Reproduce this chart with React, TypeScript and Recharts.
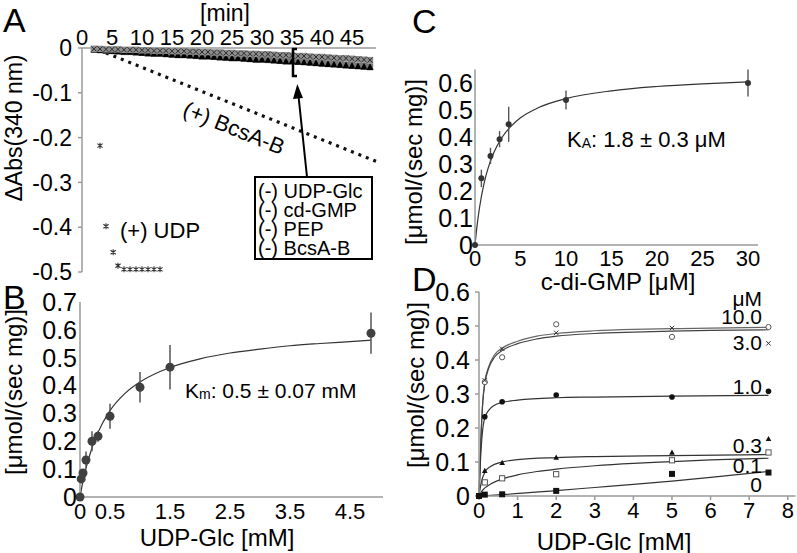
import React from 'react'
import { ComposedChart, Line, Scatter, XAxis, YAxis, ErrorBar } from 'recharts'

const FONT = '"Liberation Sans", Arial, Helvetica, sans-serif'
const AXIS = '#9a9a9a'

// ---- panel A: time course ----
const bandTimes = [2, 3, 4, 5, 6, 7, 8, 9, 10, 11, 12, 13, 14, 15, 16, 17, 18, 19, 20, 21, 22, 23, 24, 25, 26, 27, 28, 29, 30, 31, 32, 33, 34, 35, 36, 37, 38, 39, 40, 41, 42, 43, 44, 45, 46, 47, 48]
const bandCross = [-0.002, -0.002, -0.003, -0.003, -0.003, -0.004, -0.004, -0.004, -0.005, -0.005, -0.006, -0.006, -0.006, -0.007, -0.007, -0.007, -0.008, -0.008, -0.009, -0.009, -0.01, -0.01, -0.011, -0.011, -0.012, -0.012, -0.013, -0.013, -0.014, -0.014, -0.015, -0.016, -0.016, -0.017, -0.018, -0.018, -0.019, -0.02, -0.02, -0.021, -0.022, -0.023, -0.023, -0.024, -0.025, -0.026, -0.027]
const bandTri = [-0.003, -0.004, -0.005, -0.006, -0.007, -0.008, -0.008, -0.009, -0.01, -0.011, -0.012, -0.012, -0.013, -0.014, -0.015, -0.015, -0.016, -0.017, -0.018, -0.018, -0.019, -0.02, -0.021, -0.022, -0.022, -0.023, -0.024, -0.025, -0.025, -0.026, -0.027, -0.028, -0.029, -0.029, -0.03, -0.031, -0.032, -0.033, -0.034, -0.035, -0.036, -0.037, -0.038, -0.039, -0.04, -0.041, -0.042]
const bcsTimes = [4, 49]
const bcsValues = [-0.011, -0.253]
const udpTimes = [3, 4, 5.2, 6, 7, 8, 9, 10, 11, 12, 13]
const udpValues = [-0.218, -0.398, -0.456, -0.486, -0.494, -0.494, -0.494, -0.494, -0.494, -0.494, -0.494]
const aTimeTicks = [0, 5, 10, 15, 20, 25, 30, 35, 40, 45]
const aAbsTicks = [0, -0.1, -0.2, -0.3, -0.4, -0.5]

// ---- panel B: UDP-Glc ----
const bConc = [0, 0.02, 0.05, 0.1, 0.2, 0.3, 0.5, 1.0, 1.5, 4.85]
const bRate = [0, 0.065, 0.086, 0.133, 0.2, 0.218, 0.29, 0.394, 0.466, 0.588]
const bErr = [0, 0, 0, 0.03, 0.036, 0.02, 0.045, 0.055, 0.08, 0.074]
const bFitX = [0, 0.05, 0.1, 0.2, 0.3, 0.5, 0.75, 1, 1.5, 2, 2.5, 3, 3.5, 4, 4.5, 4.85]
const bFitY = [0, 0.057, 0.103, 0.177, 0.232, 0.31, 0.372, 0.413, 0.465, 0.496, 0.517, 0.531, 0.543, 0.551, 0.558, 0.563]
const bXTicks = [0, 0.5, 1.5, 2.5, 3.5, 4.5]
const bYTicks = [0, 0.1, 0.2, 0.3, 0.4, 0.5, 0.6, 0.7]

// ---- panel C: c-di-GMP ----
const cConc = [0, 0.7, 1.7, 2.7, 3.7, 10, 30]
const cRate = [0, 0.247, 0.33, 0.392, 0.447, 0.537, 0.6]
const cErr = [0, 0.032, 0.03, 0.03, 0.065, 0.035, 0.05]
const cFitX = [0, 0.25, 0.5, 1, 1.5, 2, 3, 4, 5, 7, 10, 15, 20, 25, 30]
const cFitY = [0, 0.078, 0.139, 0.229, 0.291, 0.337, 0.4, 0.441, 0.471, 0.509, 0.542, 0.571, 0.587, 0.597, 0.604]
const cXTicks = [0, 5, 10, 15, 20, 25, 30]
const cYTicks = [0, 0.1, 0.2, 0.3, 0.4, 0.5, 0.6]

// ---- panel D: UDP-Glc at several c-di-GMP ----
const dConc = [0.15, 0.6, 2, 5, 7.5]
const d10 = [0.335, 0.408, 0.505, 0.468, 0.497]
const d3 = [0.34, 0.433, 0.48, 0.494, 0.449]
const d1 = [0.233, 0.277, 0.297, 0.291, 0.308]
const d03 = [0.074, 0.098, 0.113, 0.128, 0.168]
const d01 = [0.04, 0.052, 0.064, 0.105, 0.128]
const d0Conc = [0, 0.15, 0.6, 2, 5, 7.5]
const d0 = [0, 0.004, 0.005, 0.015, 0.065, 0.069]
const fit10X = [0, 0.05, 0.1, 0.15, 0.25, 0.4, 0.6, 1, 1.5, 2, 3, 4, 5, 6, 7.5]
const fit10Y = [0, 0.17, 0.28, 0.335, 0.38, 0.415, 0.435, 0.455, 0.47, 0.478, 0.486, 0.49, 0.492, 0.494, 0.496]
const fit3Y = [0, 0.17, 0.28, 0.33, 0.375, 0.408, 0.428, 0.448, 0.462, 0.47, 0.478, 0.482, 0.485, 0.487, 0.489]
const fit1X = [0, 0.05, 0.1, 0.15, 0.25, 0.4, 0.6, 1, 2, 3, 5, 7.5]
const fit1Y = [0, 0.13, 0.2, 0.23, 0.252, 0.267, 0.275, 0.282, 0.289, 0.291, 0.294, 0.296]
const fit03X = [0, 0.05, 0.15, 0.3, 0.6, 1, 2, 3, 5, 7.5]
const fit03Y = [0, 0.035, 0.07, 0.087, 0.1, 0.107, 0.113, 0.116, 0.119, 0.122]
const fit01X = [0, 0.1, 0.3, 0.6, 1, 1.5, 2, 3, 4, 5, 6, 7.5]
const fit01Y = [0, 0.018, 0.035, 0.05, 0.062, 0.072, 0.079, 0.089, 0.096, 0.101, 0.106, 0.111]
const fit0X = [0, 0.6, 2, 3, 4, 5, 6, 7.5]
const fit0Y = [0, 0.004, 0.016, 0.025, 0.034, 0.044, 0.055, 0.072]
const dXTicks = [0, 1, 2, 3, 4, 5, 6, 7, 8]
const dYTicks = [0, 0.1, 0.2, 0.3, 0.4, 0.5, 0.6]

const pts = (xs: number[], ys: number[], es?: number[]) =>
  xs.map((x, i) => ({ x, y: ys[i], e: es ? es[i] : 0 }))

const tickStyle = (size: number) => ({ fontSize: size, fill: '#000', fontFamily: FONT })

// marker shapes
const crossBox = (p: any) => (
  <g>
    <rect x={p.cx - 3.2} y={p.cy - 3.2} width={6.4} height={6.4} fill="#8e8e8e" />
    <path d={`M${p.cx - 2.6},${p.cy - 2.6}L${p.cx + 2.6},${p.cy + 2.6}M${p.cx + 2.6},${p.cy - 2.6}L${p.cx - 2.6},${p.cy + 2.6}`} stroke="#2a2a2a" strokeWidth={1} />
  </g>
)
const triangle = (p: any) => (
  <g>
    <rect x={p.cx - 3.2} y={p.cy - 3.5} width={6.4} height={7} fill="#777" />
    <path d={`M${p.cx},${p.cy - 3.5}L${p.cx + 3.5},${p.cy + 3.2}L${p.cx - 3.5},${p.cy + 3.2}Z`} fill="#000" />
  </g>
)
const asterisk = (p: any) => (
  <path d={`M${p.cx},${p.cy - 3}L${p.cx},${p.cy + 3}M${p.cx - 2.6},${p.cy - 2}L${p.cx + 2.6},${p.cy + 2}M${p.cx + 2.6},${p.cy - 2}L${p.cx - 2.6},${p.cy + 2}`} stroke="#333" strokeWidth={1.1} />
)
const bigDot = (p: any) => <circle cx={p.cx} cy={p.cy} r={4.5} fill="#404040" />
const smallDot = (p: any) => <circle cx={p.cx} cy={p.cy} r={3} fill="#333" />
const openCircle = (p: any) => <circle cx={p.cx} cy={p.cy} r={2.6} fill="#fff" stroke="#444" strokeWidth={0.9} />
const smallX = (p: any) => (
  <path d={`M${p.cx - 2.2},${p.cy - 2.2}L${p.cx + 2.2},${p.cy + 2.2}M${p.cx + 2.2},${p.cy - 2.2}L${p.cx - 2.2},${p.cy + 2.2}`} stroke="#333" strokeWidth={1} />
)
const filledDot = (p: any) => <circle cx={p.cx} cy={p.cy} r={2.8} fill="#111" />
const smallTri = (p: any) => (
  <path d={`M${p.cx},${p.cy - 3}L${p.cx + 2.8},${p.cy + 2.2}L${p.cx - 2.8},${p.cy + 2.2}Z`} fill="#111" />
)
const openSquare = (p: any) => (
  <rect x={p.cx - 2.6} y={p.cy - 2.6} width={5.2} height={5.2} fill="#fff" stroke="#444" strokeWidth={0.9} />
)
const filledSquare = (p: any) => <rect x={p.cx - 3} y={p.cy - 3} width={6} height={6} fill="#111" />

function PanelA() {
  return (
    <ComposedChart width={380} height={300} margin={{ top: 0, right: 4, bottom: 28, left: 0 }}>
      <XAxis
        type="number"
        dataKey="x"
        orientation="top"
        height={48}
        domain={[0, 49]}
        ticks={aTimeTicks}
        interval={0}
        stroke={AXIS}
        strokeWidth={1.5}
        tickLine={false}
        tickSize={0}
        tickMargin={3}
        tick={tickStyle(22)}
      />
      <YAxis
        type="number"
        dataKey="y"
        width={82}
        domain={[-0.5, 0]}
        ticks={aAbsTicks}
        interval={0}
        stroke={AXIS}
        strokeWidth={1.5}
        tickSize={4}
        tickMargin={6}
        tick={tickStyle(23)}
      />
      <Line
        data={pts(bcsTimes, bcsValues)}
        dataKey="y"
        type="linear"
        stroke="#111"
        strokeWidth={3.2}
        strokeDasharray="3 5"
        dot={false}
        isAnimationActive={false}
      />
      <Scatter data={pts(bandTimes, bandTri)} dataKey="y" shape={triangle} isAnimationActive={false} />
      <Scatter data={pts(bandTimes, bandCross)} dataKey="y" shape={crossBox} isAnimationActive={false} />
      <Scatter data={pts(udpTimes, udpValues)} dataKey="y" shape={asterisk} isAnimationActive={false} />
    </ComposedChart>
  )
}

function PanelB() {
  return (
    <ComposedChart width={390} height={283} margin={{ top: 32, right: 7, bottom: 0, left: 0 }}>
      <XAxis
        type="number"
        dataKey="x"
        height={56}
        domain={[0, 5.05]}
        ticks={bXTicks}
        interval={0}
        stroke={AXIS}
        strokeWidth={1.5}
        tickLine={false}
        tickSize={3}
        tickMargin={3}
        tick={tickStyle(22)}
      />
      <YAxis
        type="number"
        dataKey="y"
        width={80}
        domain={[0, 0.7]}
        ticks={bYTicks}
        interval={0}
        stroke={AXIS}
        strokeWidth={1.5}
        tickLine={false}
        tickSize={0}
        tickMargin={3}
        tick={tickStyle(25)}
      />
      <Line
        data={pts(bFitX, bFitY)}
        dataKey="y"
        type="monotone"
        stroke="#333"
        strokeWidth={1.2}
        dot={false}
        isAnimationActive={false}
      />
      <Scatter data={pts(bConc, bRate, bErr)} dataKey="y" shape={bigDot} isAnimationActive={false}>
        <ErrorBar dataKey="e" direction="y" width={0} stroke="#555" strokeWidth={1.5} isAnimationActive={false} />
      </Scatter>
    </ComposedChart>
  )
}

function PanelC() {
  return (
    <ComposedChart width={397} height={235} margin={{ top: 29.5, right: 39, bottom: 0, left: 0 }}>
      <XAxis
        type="number"
        dataKey="x"
        height={30}
        domain={[0, 31.1]}
        ticks={cXTicks}
        interval={0}
        stroke={AXIS}
        strokeWidth={1.5}
        tickLine={false}
        tickSize={3}
        tickMargin={2}
        tick={tickStyle(22)}
      />
      <YAxis
        type="number"
        dataKey="y"
        width={75}
        domain={[0, 0.65]}
        ticks={cYTicks}
        interval={0}
        stroke={AXIS}
        strokeWidth={1.5}
        tickLine={false}
        tickSize={0}
        tickMargin={2}
        tick={tickStyle(25)}
      />
      <Line
        data={pts(cFitX, cFitY)}
        dataKey="y"
        type="monotone"
        stroke="#333"
        strokeWidth={1.2}
        dot={false}
        isAnimationActive={false}
      />
      <Scatter data={pts(cConc, cRate, cErr)} dataKey="y" shape={smallDot} isAnimationActive={false}>
        <ErrorBar dataKey="e" direction="y" width={0} stroke="#555" strokeWidth={1.4} isAnimationActive={false} />
      </Scatter>
    </ComposedChart>
  )
}

const fitLine = (data: any[], key: string, color: string) => (
  <Line
    key={key}
    data={data}
    dataKey="y"
    type="monotone"
    stroke={color}
    strokeWidth={1.2}
    dot={false}
    isAnimationActive={false}
  />
)

function PanelD() {
  return (
    <ComposedChart width={397} height={291} margin={{ top: 30, right: 1.5, bottom: 0, left: 0 }}>
      <XAxis
        type="number"
        dataKey="x"
        height={57}
        domain={[0, 8.2]}
        ticks={dXTicks}
        interval={0}
        stroke={AXIS}
        strokeWidth={1.5}
        tickSize={4}
        tickMargin={2}
        tick={tickStyle(22)}
      />
      <YAxis
        type="number"
        dataKey="y"
        width={79}
        domain={[0, 0.6]}
        ticks={dYTicks}
        interval={0}
        stroke={AXIS}
        strokeWidth={1.5}
        tickSize={4}
        tickMargin={5}
        tick={tickStyle(25)}
      />
      {fitLine(pts(fit10X, fit10Y), 'f10', '#666')}
      {fitLine(pts(fit10X, fit3Y), 'f3', '#444')}
      {fitLine(pts(fit1X, fit1Y), 'f1', '#333')}
      {fitLine(pts(fit03X, fit03Y), 'f03', '#333')}
      {fitLine(pts(fit01X, fit01Y), 'f01', '#333')}
      {fitLine(pts(fit0X, fit0Y), 'f0', '#333')}
      <Scatter data={pts(dConc, d10)} dataKey="y" shape={openCircle} isAnimationActive={false} />
      <Scatter data={pts(dConc, d3)} dataKey="y" shape={smallX} isAnimationActive={false} />
      <Scatter data={pts(dConc, d1)} dataKey="y" shape={filledDot} isAnimationActive={false} />
      <Scatter data={pts(dConc, d03)} dataKey="y" shape={smallTri} isAnimationActive={false} />
      <Scatter data={pts(dConc, d01)} dataKey="y" shape={openSquare} isAnimationActive={false} />
      <Scatter data={pts(d0Conc, d0)} dataKey="y" shape={filledSquare} isAnimationActive={false} />
    </ComposedChart>
  )
}

const boxLines = ['(-) UDP-Glc', '(-) cd-GMP', '(-) PEP', '(-) BcsA-B']
const dLabels = [
  { t: 'μM', y: 298 },
  { t: '10.0', y: 316 },
  { t: '3.0', y: 342 },
  { t: '1.0', y: 386 },
  { t: '0.3', y: 445 },
  { t: '0.1', y: 465 },
  { t: '0', y: 484 },
]

function Annotations() {
  const t = { fontFamily: FONT, fill: '#000' }
  return (
    <svg width={797} height={553} style={{ position: 'absolute', left: 0, top: 0, pointerEvents: 'none' }}>
      {/* panel letters */}
      <text x={3} y={32} fontSize={34} {...t}>A</text>
      <text x={3} y={309} fontSize={34} {...t}>B</text>
      <text x={412} y={33} fontSize={34} {...t}>C</text>
      <text x={412} y={291} fontSize={34} {...t}>D</text>

      {/* panel A */}
      <text x={225} y={13} fontSize={23} textAnchor="middle" dominantBaseline="central" {...t}>[min]</text>
      <text x={14} y={128} fontSize={23} textAnchor="middle" dominantBaseline="central" transform="rotate(-90 14 128)" {...t}>ΔAbs(340 nm)</text>
      <text x={120} y={230} fontSize={22} dominantBaseline="central" {...t}>(+) UDP</text>
      <text x={234} y={128} fontSize={22} textAnchor="middle" dominantBaseline="central" transform="rotate(22 234 128)" {...t}>(+) BcsA-B</text>
      <path d="M297,49L293,49L293,76L297,76" fill="none" stroke="#000" strokeWidth={2.5} />
      <line x1={307} y1={177} x2={298.5} y2={96} stroke="#000" strokeWidth={2} />
      <path d="M297.3,84L303,98L293,99Z" fill="#000" />
      <rect x={255} y={177} width={117} height={82} fill="#fff" stroke="#000" strokeWidth={2} />
      {boxLines.map((s, i) => (
        <text key={s} x={258} y={191 + i * 19} fontSize={20} dominantBaseline="central" {...t}>{s}</text>
      ))}

      {/* panel B */}
      <text x={13} y={392} fontSize={24} textAnchor="middle" dominantBaseline="central" transform="rotate(-90 13 392)" {...t}>[μmol/(sec mg)]</text>
      <text x={217} y={537} fontSize={24} textAnchor="middle" dominantBaseline="central" {...t}>UDP-Glc [mM]</text>
      <text x={185} y={390} fontSize={21} dominantBaseline="central" {...t}>
        K<tspan fontSize={14} dy={4}>m</tspan><tspan dy={-4}>: 0.5 ± 0.07 mM</tspan>
      </text>

      {/* panel C */}
      <text x={413} y={162} fontSize={24} textAnchor="middle" dominantBaseline="central" transform="rotate(-90 413 162)" {...t}>[μmol/(sec mg)]</text>
      <text x={618} y={281} fontSize={24} textAnchor="middle" dominantBaseline="central" {...t}>c-di-GMP [μM]</text>
      <text x={567} y={139} fontSize={22} dominantBaseline="central" {...t}>
        K<tspan fontSize={14} dy={4}>A</tspan><tspan dy={-4}>: 1.8 ± 0.3 μM</tspan>
      </text>

      {/* panel D */}
      <text x={415} y={385} fontSize={24} textAnchor="middle" dominantBaseline="central" transform="rotate(-90 415 385)" {...t}>[μmol/(sec mg)]</text>
      <text x={614} y={541} fontSize={24} textAnchor="middle" dominantBaseline="central" {...t}>UDP-Glc [mM]</text>
      {dLabels.map((l) => (
        <text key={l.t} x={762} y={l.y} fontSize={21} textAnchor="end" dominantBaseline="central" {...t}>{l.t}</text>
      ))}
    </svg>
  )
}

export default function App() {
  return (
    <div style={{ position: 'absolute', left: 0, top: 0, width: 797, height: 553, background: '#fff', overflow: 'hidden' }}>
      <div style={{ position: 'absolute', left: 0, top: 0 }}><PanelA /></div>
      <div style={{ position: 'absolute', left: 0, top: 270 }}><PanelB /></div>
      <div style={{ position: 'absolute', left: 400, top: 40 }}><PanelC /></div>
      <div style={{ position: 'absolute', left: 400, top: 262 }}><PanelD /></div>
      <Annotations />
    </div>
  )
}
